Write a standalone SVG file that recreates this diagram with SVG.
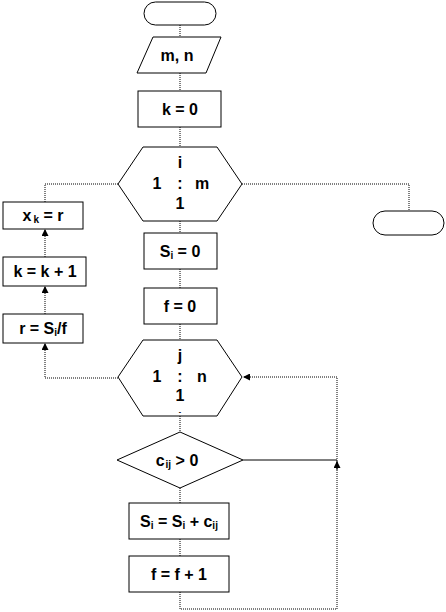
<svg xmlns="http://www.w3.org/2000/svg" width="446" height="612" viewBox="0 0 446 612">
<style>
.s{fill:#fff;stroke:#000;stroke-width:1}
.c{fill:none;stroke:#000;stroke-width:1;stroke-dasharray:1 1}
.cs{fill:none;stroke:#000;stroke-width:1}
text{font-family:"Liberation Sans",Arial,sans-serif;font-weight:bold;font-size:16px;fill:#000;text-anchor:middle}
.sub{font-size:10px}
</style>
<defs>
<marker id="a" viewBox="0 0 8 8" refX="8" refY="4" markerWidth="7" markerHeight="7" orient="auto" markerUnits="userSpaceOnUse">
<path d="M0,0 L8,4 L0,8 Z" fill="#000"/>
</marker>
</defs>
<rect width="446" height="612" fill="#fff"/>
<g id="connectors">
<line class="c" x1="180" y1="25" x2="180" y2="37"/>
<line class="c" x1="180" y1="73" x2="180" y2="91"/>
<line class="c" x1="180" y1="127" x2="180" y2="147"/>
<line class="c" x1="180" y1="221" x2="180" y2="233"/>
<line class="c" x1="180" y1="269" x2="180" y2="288"/>
<line class="c" x1="180" y1="324" x2="180" y2="340"/>
<line class="c" x1="180" y1="416" x2="180" y2="432"/>
<line class="c" x1="180" y1="488" x2="180" y2="503"/>
<line class="c" x1="180" y1="539" x2="180" y2="556"/>
<polyline class="c" points="118,184 45,184 45,202"/>
<polyline class="c" points="242,184 409,184 409,211"/>
<line class="c" x1="45" y1="257" x2="45" y2="229" marker-end="url(#a)"/>
<line class="c" x1="45" y1="314" x2="45" y2="286" marker-end="url(#a)"/>
<polyline class="c" points="118,378 45,378 45,343" marker-end="url(#a)"/>
<polyline class="c" points="180,592 180,609 337,609 337,377 243,377" marker-end="url(#a)"/>
<line class="cs" x1="243" y1="460" x2="337" y2="460"/>
<line class="cs" x1="337" y1="470" x2="337" y2="461" marker-end="url(#a)"/>
</g>
<g id="start"><rect class="s" x="144" y="2" width="72" height="23" rx="11.5"/></g>
<g id="input"><polygon class="s" points="153,37 221,37 206,73 137,73"/><text x="177" y="61">m, n</text></g>
<g id="k0"><rect class="s" x="138" y="91" width="83" height="36"/><text x="180" y="115">k = 0</text></g>
<g id="loopi"><polygon class="s" points="143,147 217,147 242,184 217,221 143,221 118,184"/>
<text x="180" y="168">i</text><text x="157" y="189">1</text><text x="180" y="189">:</text><text x="202" y="189">m</text><text x="180" y="209">1</text></g>
<g id="end"><rect class="s" x="373" y="211" width="71" height="24" rx="12"/></g>
<g id="xk"><rect class="s" x="3" y="202" width="80" height="27"/><text x="43" y="221">x<tspan class="sub" dx="2" dy="2">k</tspan><tspan dy="-2"> = r</tspan></text></g>
<g id="kinc"><rect class="s" x="3" y="257" width="83" height="29"/><text x="45" y="277">k = k + 1</text></g>
<g id="r"><rect class="s" x="3" y="314" width="80" height="29"/><text x="43" y="334">r = S<tspan class="sub" dy="2">i</tspan><tspan dy="-2">/f</tspan></text></g>
<g id="si0"><rect class="s" x="144" y="233" width="73" height="36"/><text x="180" y="257">S<tspan class="sub" dy="2">i</tspan><tspan dy="-2"> = 0</tspan></text></g>
<g id="f0"><rect class="s" x="144" y="288" width="73" height="36"/><text x="180" y="312">f = 0</text></g>
<g id="loopj"><polygon class="s" points="143,340 217,340 242,377 217,416 143,416 118,377"/>
<text x="180" y="361">j</text><text x="157" y="382">1</text><text x="180" y="382">:</text><text x="202" y="382">n</text><text x="180" y="401">1</text><text x="180" y="414" style="font-size:7px">-</text></g>
<g id="cond"><polygon class="s" points="180,432 243,460 180,488 117,460"/><text x="177" y="466">c<tspan class="sub" dx="1" dy="2">ij</tspan><tspan dy="-2"> &gt; 0</tspan></text></g>
<g id="sum"><rect class="s" x="129" y="503" width="100" height="36"/><text x="179" y="527">S<tspan class="sub" dy="2">i</tspan><tspan dy="-2"> = S</tspan><tspan class="sub" dy="2">i</tspan><tspan dy="-2"> + c</tspan><tspan class="sub" dy="2">ij</tspan></text></g>
<g id="finc"><rect class="s" x="129" y="556" width="100" height="36"/><text x="179" y="580">f = f + 1</text></g>
</svg>
